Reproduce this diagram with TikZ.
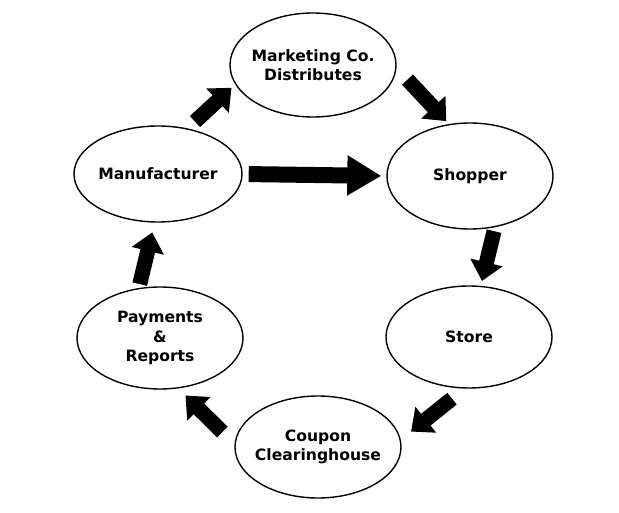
\documentclass[tikz,border=0pt]{standalone}
\usepackage{fontspec}
\setmainfont{DejaVu Sans}
\usetikzlibrary{arrows.meta, shapes}

\begin{document}
\begin{tikzpicture}[x=1pt,y=-1pt,
      main node/.style={ellipse,draw,line width=1.4pt,minimum width=166pt,
        minimum height=102pt,inner xsep=-14pt,inner ysep=0pt,align=center,
        font=\fontsize{15.6}{19.5}\selectfont\bfseries},
      fat arrow/.style={-{Triangle[length=19pt,width=32pt]},line width=15pt}]
      \useasboundingbox (0,0) rectangle (619,513);

      \node[main node,minimum height=104pt] (Mkt) at (313,65) {Marketing Co.\\Distributes};
      \node[main node,minimum width=168pt,minimum height=96pt] (Man) at (158,174) {Manufacturer};
      \node[main node,minimum height=106pt] (Shop) at (470,176) {Shopper};
      \node[main node] (Store) at (469,337) {Store};
      \node[main node] (Coup) at (318,447) {Coupon\\Clearinghouse};
      \node[main node] (Pay) at (160,338) {Payments\\\&\\Reports};

      \path[fat arrow,line width=16pt,-{Triangle[length=34pt,width=38pt]},
        shorten <=6pt,shorten >=5pt] (Man.east) edge (Shop.west);
      \foreach \s/\t/\a/\b in {Man.57/Mkt.194/10/5, Mkt.358/Shop.112/16/4,
          Shop.296/Store.77/4/5, Store.265/Coup.5/16/13,
          Coup.178/Pay.290/17/10, Pay.113/Man.266/4/10} {
          \path[fat arrow,shorten <=\a pt,shorten >=\b pt] (\s) edge (\t);}
      \end{tikzpicture}
\end{document}
